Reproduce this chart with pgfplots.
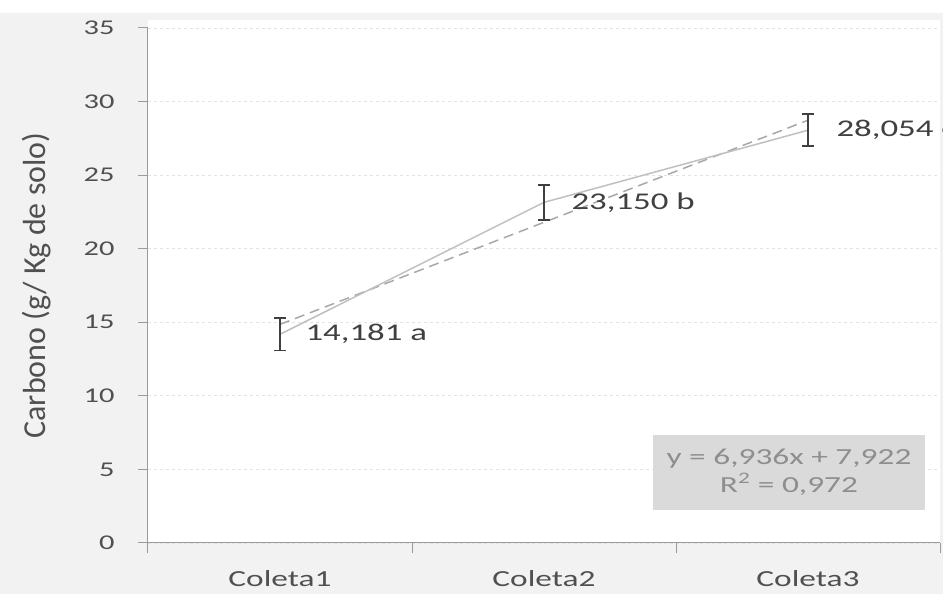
\documentclass[border=0pt]{standalone}
\usepackage{pgfplots}
\pgfplotsset{compat=1.18}
\usepackage{fontspec}
\setmainfont{Carlito}[FakeStretch=1.45]
\newfontfamily\plainfont{Carlito}
\definecolor{bg}{HTML}{F2F2F2}
\definecolor{axisgray}{HTML}{9A9A9A}
\definecolor{gridgray}{HTML}{E2E2E2}
\definecolor{tickgray}{HTML}{505050}
\definecolor{labcol}{HTML}{404040}
\definecolor{linecol}{HTML}{C0C0C0}
\definecolor{trendcol}{HTML}{A8A8A8}
\definecolor{errcol}{HTML}{404040}
\definecolor{boxgray}{HTML}{DADADA}
\definecolor{eqcol}{HTML}{8E8E8E}
\pgfplotstableread{
x y e
1 14.181 1.1
2 23.150 1.2
3 28.054 1.1
}\datatab
\begin{document}
\begin{tikzpicture}[x=1pt,y=1pt]
\useasboundingbox (0,0) rectangle (943,594);
\fill[bg] (0,0) rectangle (943,581);
\fill[white] (148,51) rectangle (940,574);
\begin{axis}[
  at={(148pt,51pt)}, anchor=south west,
  width=792pt, height=515pt, scale only axis,
  xmin=0.5, xmax=3.5, ymin=0, ymax=35,
  clip=false,
  /pgf/number format/assume math mode=true,
  axis x line*=bottom, axis y line*=left,
  axis line style={draw=axisgray, line width=1pt},
  tick align=outside, major tick length=10pt,
  tick style={draw=axisgray, line width=1pt},
  xtick={0.5,1.5,2.5,3.5}, xticklabels={},
  extra x ticks={1,2,3},
  extra x tick labels={Coleta1,Coleta2,Coleta3},
  extra x tick style={tick style={draw=none}},
  xticklabel style={font=\fontsize{23}{23}\selectfont, text=tickgray, yshift=-14pt},
  ytick={0,5,...,35},
  yticklabel style={font=\fontsize{21}{21}\selectfont, text=tickgray, xshift=-20pt},
  ymajorgrids,
  grid style={dashed, draw=gridgray, line width=0.8pt},
  ylabel={Carbono (g/ Kg de solo)},
  every axis y label/.style={at={(axis description cs:0,0.5)}, rotate=90, anchor=center, yshift=111pt,
    font=\plainfont\fontsize{32}{32}\selectfont, text=tickgray},
]
\addplot[trendcol, dash pattern=on 10pt off 6pt, line width=1.5pt, forget plot] coordinates {(1,14.858) (2,21.794) (3,28.730)};
\addplot[linecol, line width=1.5pt, mark=none,
  error bars/.cd, y dir=both, y explicit,
  error bar style={line width=1.8pt, errcol},
  error mark options={rotate=90, mark size=6pt, line width=1.8pt, errcol}]
  table[x=x, y=y, y error=e] {\datatab};
\node[anchor=west, text=labcol, font=\fontsize{24}{24}\selectfont, xshift=22pt] at (axis cs:1,14.181) {14,181 a};
\node[anchor=west, text=labcol, font=\fontsize{24}{24}\selectfont, xshift=24pt] at (axis cs:2,23.150) {23,150 b};
\node[anchor=west, text=labcol, font=\fontsize{24}{24}\selectfont, xshift=25pt] at (axis cs:3,28.054) {28,054 c};
\node[fill=boxgray, text=eqcol, align=center, minimum width=272pt, minimum height=75pt, inner sep=0pt,
  font=\fontsize{23}{28}\selectfont] at (axis cs:2.928,4.79) {y = 6,936x + 7,922\\R\textsuperscript{2} = 0,972};
\end{axis}
\end{tikzpicture}
\end{document}
